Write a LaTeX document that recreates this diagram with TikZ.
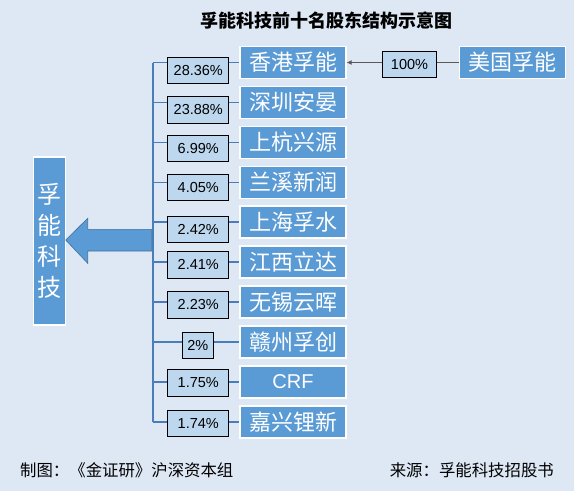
\documentclass[tikz,border=0pt]{standalone}
\usepackage{fontspec}
\setmainfont{Noto Sans CJK SC}
\newfontfamily\latin{Liberation Sans}
\usetikzlibrary{arrows.meta}
\definecolor{bg}{HTML}{DEE8F4}
\definecolor{boxblue}{HTML}{5B9BD5}
\definecolor{pctfill}{HTML}{BDD7EE}
\definecolor{busline}{HTML}{4A7EBB}
\definecolor{arrowgray}{HTML}{595959}
\definecolor{arrowedge}{HTML}{41719C}
\begin{document}
\begin{tikzpicture}[x=1pt,y=-1pt,
  namebox/.style={draw=white,line width=1.2pt,fill=boxblue,text=white,minimum width=106pt,minimum height=32pt,inner sep=0pt,font=\fontsize{22}{22}\selectfont},
  pctbox/.style={draw=black,line width=0.8pt,fill=pctfill,minimum width=61pt,minimum height=26.5pt,inner sep=0pt,font=\latin\fontsize{14.5}{14.5}\selectfont},
  conn/.style={busline,line width=1.3pt},
  bus/.style={busline,line width=2pt},
  foot/.style={font=\fontsize{16.4}{16.4}\selectfont,inner sep=0pt}]
\fill[bg] (0,0) rectangle (574,491);
\useasboundingbox (0,0) rectangle (574,491);

% title
\node[font=\bfseries\fontsize{18}{18}\selectfont,inner sep=0pt] (title) at (326.7,20.5) {孚能科技前十名股东结构示意图};

% name boxes
\node[namebox] (n1) at (293,62.5) {香港孚能};
\node[namebox] (n2) at (293,102.5) {深圳安晏};
\node[namebox] (n3) at (293,142.2) {上杭兴源};
\node[namebox] (n4) at (293,182.2) {兰溪新润};
\node[namebox] (n5) at (293,222) {上海孚水};
\node[namebox] (n6) at (293,262) {江西立达};
\node[namebox] (n7) at (293,302) {无锡云晖};
\node[namebox] (n8) at (293,342) {赣州孚创};
\node[namebox,font=\latin\fontsize{20}{20}\selectfont] (n9) at (293,382) {CRF};
\node[namebox] (n10) at (293,422) {嘉兴锂新};

% percentage boxes
\node[pctbox] (p1) at (198.3,70.3) {28.36\%};
\node[pctbox] (p2) at (198.3,109.7) {23.88\%};
\node[pctbox] (p3) at (198.3,148.3) {6.99\%};
\node[pctbox] (p4) at (198.3,187.3) {4.05\%};
\node[pctbox] (p5) at (198.3,229.2) {2.42\%};
\node[pctbox] (p6) at (198.3,264.7) {2.41\%};
\node[pctbox] (p7) at (198.3,305) {2.23\%};
\node[pctbox,minimum width=31pt] (p8) at (197.8,345.5) {2\%};
\node[pctbox] (p9) at (198.3,382.7) {1.75\%};
\node[pctbox] (p10) at (198.3,423.3) {1.74\%};

% bus coordinates
\foreach \i/\y in {1/62.5,2/102.5,3/142.2,4/182.2,5/222,6/262,7/302,8/342,9/382,10/422}{
  \coordinate (b\i) at (152.7,\y);
}
\draw[bus] (b1) -- (b10);
\foreach \i in {1,...,10}{
  \draw[conn] (b\i) -- (b\i -| p\i.west);
  \draw[conn] (p\i.east |- n\i.west) -- (n\i.west);
}

% left box
\node[draw=white,line width=1.2pt,fill=boxblue,text=white,minimum width=32pt,minimum height=168pt,inner sep=0pt,align=center,font=\fontsize{24}{31}\selectfont] (fn) at (49.3,241) {孚\\能\\科\\技};

% big arrow
\coordinate (bt) at (65.7,240);
\fill[boxblue,draw=arrowedge,line width=0.6pt] (bt) -- (87.7,218.3) -- (87.7,229.3) -- (151.7,229.3) -- (151.7,251) -- (87.7,251) -- (87.7,263.3) -- cycle;

% top right
\node[namebox] (us) at (512.8,62.2) {美国孚能};
\node[pctbox,minimum width=54.4pt] (p0) at (409.5,64.2) {100\%};
\draw[arrowgray,line width=1.3pt] (us.west) -- (us.west -| p0.east);
\draw[arrowgray,line width=1.3pt,-{Latex[length=5pt,width=5pt]}] (p0.west |- n1.east) -- (n1.east);

% footer
\node[foot,anchor=west] (f1) at (20,470.5) {制图：《金证研》沪深资本组};
\node[foot,anchor=east] (f2) at (554,470.5) {来源：孚能科技招股书};
\end{tikzpicture}
\end{document}
